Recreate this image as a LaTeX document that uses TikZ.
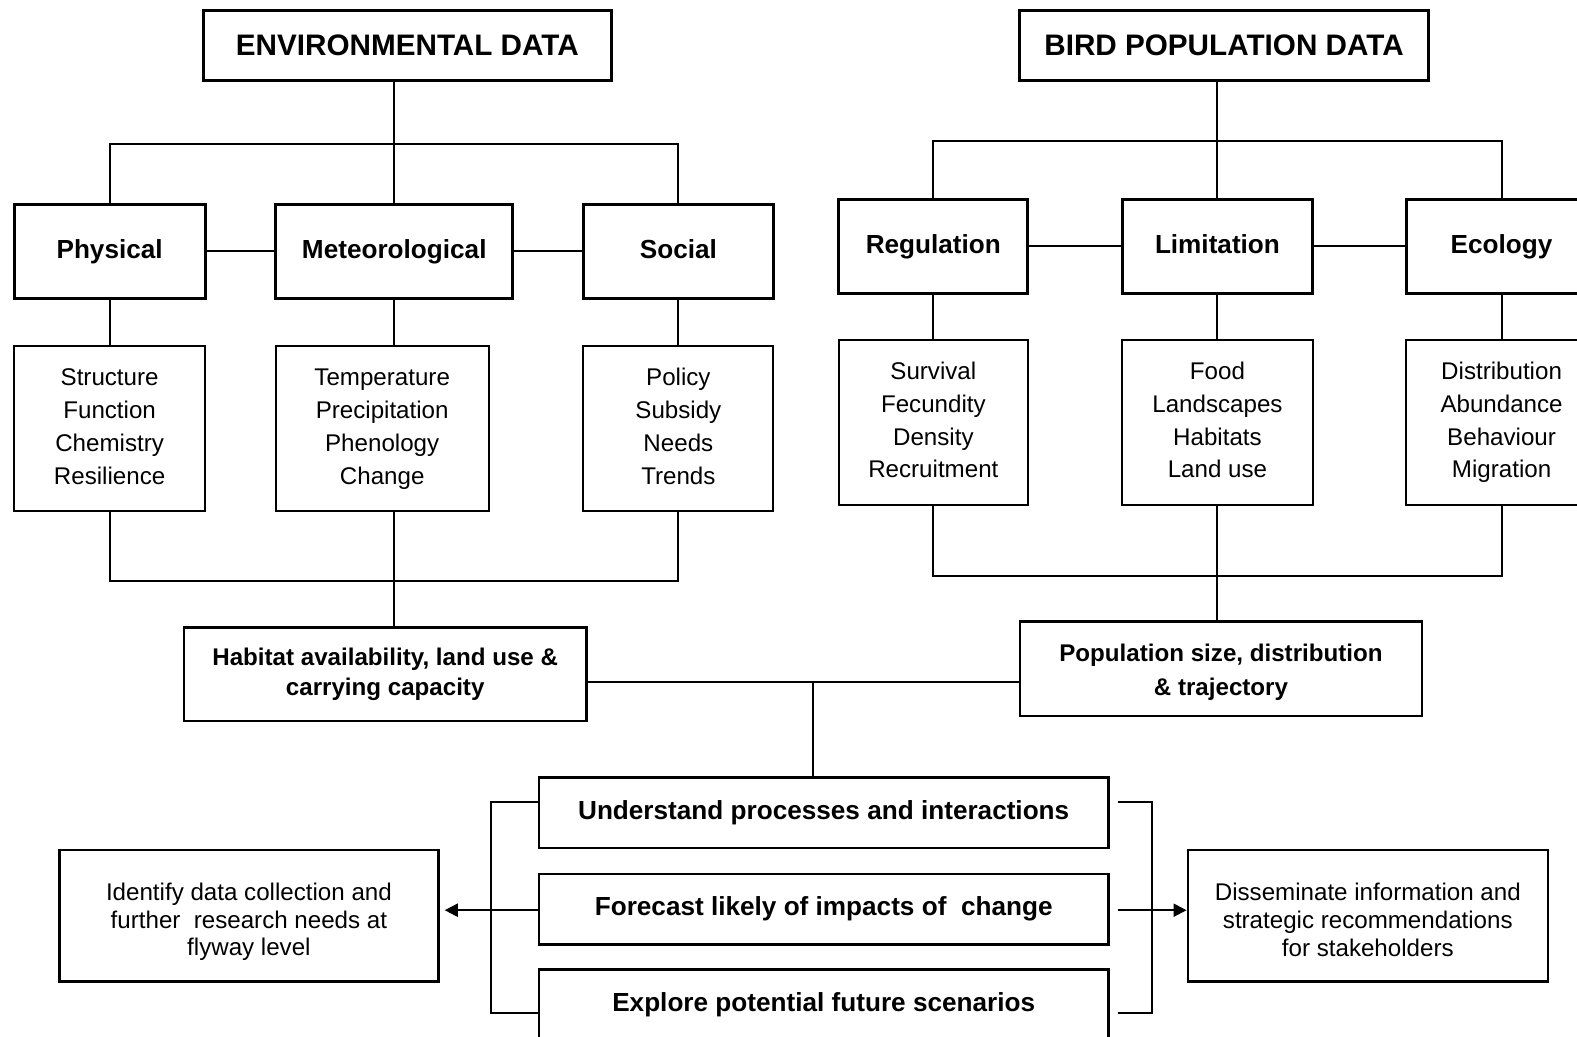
\documentclass[tikz,border=0pt]{standalone}
\usepackage{fontspec}
\setmainfont{Liberation Sans}
\usetikzlibrary{arrows.meta}
\begin{document}
\begin{tikzpicture}[x=1pt,y=-1pt,
  thickbox/.style={draw,line width=3pt,inner sep=0pt,align=center,text height=19pt,text depth=5.5pt,font=\bfseries\fontsize{26}{31}\selectfont},
  titlebox/.style={draw,line width=3pt,inner sep=0pt,align=center,font=\bfseries\fontsize{29.5}{34}\selectfont},
  detailbox/.style={draw,line width=2pt,inner sep=0pt,align=center,font=\fontsize{24}{32.5}\selectfont},
  sumbox/.style={draw,line width=2.4pt,inner sep=0pt,align=center,font=\bfseries\fontsize{24}{29}\selectfont},
  aimbox/.style={draw,line width=2.4pt,inner sep=0pt,align=center,font=\bfseries\fontsize{26}{31}\selectfont},
  outbox/.style={draw,line width=2.4pt,inner sep=0pt,align=center,font=\fontsize{24}{27.5}\selectfont},
  conn/.style={line width=2pt},
  arr/.style={conn,-{Triangle[length=13pt,width=13pt]}}]
\useasboundingbox (0,0) rectangle (1568,1031);
\clip (0,0) rectangle (1568,1031);
% titles
\node[titlebox,minimum width=406,minimum height=70] (env) at (405,45) {ENVIRONMENTAL DATA};
\node[titlebox,minimum width=406,minimum height=70] (bird) at (1217,45) {BIRD POPULATION DATA};
% environmental categories
\node[thickbox,minimum width=190,minimum height=94] (phys) at (109,250) {Physical};
\node[thickbox,minimum width=236,minimum height=94] (met) at (392,250) {Meteorological};
\node[thickbox,minimum width=189,minimum height=94] (soc) at (674.5,250) {Social};
\node[detailbox,minimum width=190,minimum height=164] (physd) at (109,426) {\strut Structure\\Function\\Chemistry\\\strut Resilience};
\node[detailbox,minimum width=212,minimum height=164] (metd) at (380,426) {\strut Temperature\\Precipitation\\Phenology\\\strut Change};
\node[detailbox,minimum width=189,minimum height=164] (socd) at (674.5,426) {\strut Policy\\Subsidy\\Needs\\\strut Trends};
\node[sumbox,minimum width=400,minimum height=93] (hab) at (383,670.5) {Habitat availability, land use \&\\carrying capacity};
% bird categories
\node[thickbox,minimum width=188,minimum height=94] (reg) at (928,245) {Regulation};
\node[thickbox,minimum width=189,minimum height=94] (lim) at (1210.5,245) {Limitation};
\node[thickbox,minimum width=190,minimum height=94] (eco) at (1493,245) {Ecology};
\node[detailbox,minimum width=188,minimum height=164] (regd) at (928,420) {\strut Survival\\Fecundity\\Density\\\strut Recruitment};
\node[detailbox,minimum width=189,minimum height=164] (limd) at (1210.5,420) {\strut Food\\Landscapes\\Habitats\\\strut Land use};
\node[detailbox,minimum width=190,minimum height=164] (ecod) at (1493,420) {\strut Distribution\\Abundance\\Behaviour\\\strut Migration};
\node[sumbox,minimum width=400,minimum height=94,font=\bfseries\fontsize{24}{34}\selectfont] (pop) at (1214,665) {\rule{0pt}{23.5pt}Population size, distribution\\\& trajectory};
% aims
\node[aimbox,minimum width=566,minimum height=70] (und) at (819,808) {Understand processes and interactions};
\node[aimbox,minimum width=566,minimum height=70] (fore) at (819,904) {Forecast likely of impacts of\ \ change};
\node[aimbox,minimum width=566,minimum height=70] (expl) at (819,999) {Explore potential future scenarios};
\node[outbox,minimum width=377,minimum height=131] (iden) at (247.5,910.5) {\rule{0pt}{29.5pt}Identify data collection and\\further\ \ research needs at\\flyway level};
\node[outbox,minimum width=358,minimum height=131] (diss) at (1360,910.5) {\rule{0pt}{25.5pt}Disseminate information and\\strategic recommendations\\for stakeholders};
% helper coordinates
\coordinate (eb) at (0,143);
\coordinate (lb) at (0,578);
\coordinate (bb) at (0,140);
\coordinate (lb2) at (0,573);
\coordinate (mid) at (808,678);
\coordinate (bt) at (0,797);
\coordinate (bm) at (0,1007);
\coordinate (ay) at (0,905);
\coordinate (lbx) at (488,0);
\coordinate (rbx) at (1145,0);
% environmental connectors
\draw[conn] (met.north |- env.south) -- (met.north);
\draw[conn] (phys.north) -- (phys.north |- eb) -- (soc.north |- eb) -- (soc.north);
\draw[conn] (phys.east) -- (met.west);
\draw[conn] (met.east) -- (soc.west);
\draw[conn] (phys.south) -- (physd.north);
\draw[conn] (met.south) -- (met.south |- metd.north);
\draw[conn] (soc.south) -- (socd.north);
\draw[conn] (physd.south) -- (physd.south |- lb) -- (socd.south |- lb) -- (socd.south);
\draw[conn] (met.south |- metd.south) -- (met.south |- hab.north);
% bird connectors
\draw[conn] (lim.north |- bird.south) -- (lim.north);
\draw[conn] (reg.north) -- (reg.north |- bb) -- (eco.north |- bb) -- (eco.north);
\draw[conn] (reg.east) -- (lim.west);
\draw[conn] (lim.east) -- (eco.west);
\draw[conn] (reg.south) -- (regd.north);
\draw[conn] (lim.south) -- (limd.north);
\draw[conn] (eco.south) -- (ecod.north);
\draw[conn] (regd.south) -- (regd.south |- lb2) -- (ecod.south |- lb2) -- (ecod.south);
\draw[conn] (limd.south) -- (limd.south |- pop.north);
% merge
\draw[conn] (hab.east |- mid) -- (pop.west |- mid);
\draw[conn] (mid) -- (mid |- und.north);
% brackets and arrows
\draw[conn] (und.west |- bt) -- (lbx |- bt) -- (lbx |- bm) -- (expl.west |- bm);
\draw[arr,shorten >=5pt] (fore.west |- ay) -- (iden.east |- ay);
\draw[conn] ([xshift=8pt]und.east |- bt) -- (rbx |- bt) -- (rbx |- bm) -- ([xshift=8pt]expl.east |- bm);
\draw[arr] ([xshift=8pt]fore.east |- ay) -- (diss.west |- ay);
\end{tikzpicture}
\end{document}
